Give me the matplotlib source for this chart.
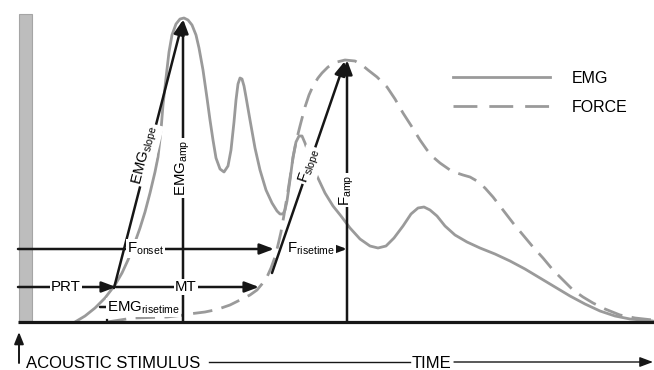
import matplotlib
matplotlib.use("Agg")
import matplotlib.pyplot as plt
from matplotlib.lines import Line2D
from matplotlib.patches import Rectangle

plt.rcParams['font.family'] = ['Liberation Sans', 'DejaVu Sans']
plt.rcParams['mathtext.fontset'] = 'custom'
plt.rcParams['mathtext.rm'] = 'Liberation Sans'
plt.rcParams['mathtext.it'] = 'Liberation Sans:italic'
plt.rcParams['mathtext.bf'] = 'Liberation Sans:bold'

# ---------------- data (schematic units: x = time, y = screen units, baseline = 322) -------------
emg_x = [75, 85, 95, 105, 115, 122, 128, 134, 140, 145, 150, 155, 158, 161, 163, 166, 169, 172,
         176, 180, 184, 188, 192, 196, 199, 203, 207, 210, 213, 216, 220, 224, 228, 231, 234,
         236, 238, 240, 242, 244, 246, 250, 255, 260, 266, 272, 277, 280, 283, 285, 287, 290, 293, 296,
         299, 302, 305, 310, 317, 325, 333, 341, 350, 360, 370, 378, 386, 394, 403, 411, 418,
         424, 430, 437, 445, 455, 467, 480, 495, 510, 525, 540, 555, 570, 585, 600, 615, 630, 653]
emg_y = [322, 316, 308, 298, 285, 273, 260, 245, 228, 212, 193, 172, 157, 130, 105, 78, 52, 35,
         24, 19, 18, 20, 25, 35, 48, 70, 98, 120, 140, 158, 169, 172, 166, 150, 122,
         100, 84, 78, 79, 86, 97, 120, 148, 170, 190, 203, 211, 214, 214, 210, 201, 180, 157, 142,
         136, 136, 143, 158, 176, 193, 206, 216, 228, 239, 246, 248, 246, 238, 226, 214, 208,
         207, 210, 216, 226, 235, 242, 248, 254, 261, 269, 278, 287, 296, 304, 311, 316, 319, 321]

force_x = [107, 120, 133, 150, 167, 180, 193, 205, 217, 230, 240, 250, 257, 262, 267, 271, 275,
           278, 281, 284, 287, 290, 293, 296, 300, 305, 309, 313, 318, 322, 328, 337, 345, 355,
           362, 368, 377, 387, 395, 403, 412, 420, 427, 433, 440, 450, 457, 463, 470, 477, 485,
           493, 503, 513, 523, 533, 543, 553, 563, 573, 583, 593, 605, 620, 635, 653]
force_y = [322, 320, 318, 317.5, 317, 315.5, 313.5, 312, 309.5, 305, 300, 295, 290, 284, 277, 268,
           257, 245, 232, 215, 197, 178, 158, 142, 126, 107, 95, 86, 78, 73, 67, 62, 60, 61,
           65, 70, 77, 87, 99, 113, 127, 140, 150, 157, 163, 170, 173, 175, 177, 181, 188,
           197, 210, 223, 235, 247, 258, 270, 280, 290, 297, 303, 309, 315, 318, 320]

legend_labels = ['EMG', 'FORCE']

GRAY = '#9a9a9a'
BLACK = '#161616'

fig = plt.figure(figsize=(6.54, 3.70), dpi=100)
ax = fig.add_axes([0, 0, 1, 1])
ax.set_xlim(0, 654)
ax.set_ylim(370, 0)
ax.axis('off')

# stimulus bar
ax.add_patch(Rectangle((19, 14), 13, 308, facecolor='#bdbdbd', edgecolor='#a5a5a5', lw=0.8, zorder=1))

# curves
ax.plot(emg_x, emg_y, color=GRAY, lw=2.0, zorder=2, solid_capstyle='round', solid_joinstyle='round')
ax.plot(force_x, force_y, color=GRAY, lw=2.0, zorder=2, linestyle=(0, (7.0, 3.4)))

# baseline
ax.plot([18, 654], [322, 322], color=BLACK, lw=2.3, zorder=3, solid_capstyle='butt')
ax.plot([107, 107], [320, 322], color=BLACK, lw=1.6, zorder=3)


def arrow(x0, y0, x1, y1, lw=1.8, hl=0.85, hw=0.32):
    ax.annotate('', xy=(x1, y1), xytext=(x0, y0),
                arrowprops=dict(arrowstyle='-|>,head_length=%g,head_width=%g' % (hl, hw),
                                lw=lw, color=BLACK, shrinkA=0, shrinkB=0,
                                mutation_scale=10),
                zorder=3)


box = dict(facecolor='white', edgecolor='none', pad=1.0)

# vertical amplitude arrows
arrow(183, 322, 183, 19)
arrow(347, 322, 347, 60)
# slope arrows
arrow(114, 288, 183, 20)
arrow(272, 273, 345, 61)
# horizontal timing arrows
arrow(18, 249, 274, 249)
arrow(331, 249, 347, 249)
arrow(18, 287, 116, 287)
arrow(116, 287, 259, 287)
arrow(100, 307, 183, 307, hl=0.7, hw=0.3)

fs = 10.8
ax.text(66, 287, 'PRT', fontsize=fs, ha='center', va='center', bbox=box, zorder=5)
ax.text(186, 287, 'MT', fontsize=fs, ha='center', va='center', bbox=box, zorder=5)
ax.text(127, 252.5, r'$\mathrm{F}_{\mathrm{onset}}$', fontsize=fs, ha='left', va='baseline',
        bbox=box, zorder=5)
ax.text(287, 253, r'$\mathrm{F}_{\mathrm{risetime}}$', fontsize=fs, ha='left', va='baseline',
        bbox=box, zorder=5)
ax.text(107, 311.5, r'$\mathrm{EMG}_{\mathrm{risetime}}$', fontsize=fs, ha='left', va='baseline',
        bbox=box, zorder=5)
ax.text(146, 155, r'$\mathrm{EMG}_{\mathrm{slope}}$', fontsize=fs, ha='center', va='center',
        rotation=75.8, rotation_mode='anchor', bbox=box, zorder=5)
ax.text(183, 168, r'$\mathrm{EMG}_{\mathrm{amp}}$', fontsize=fs, ha='center', va='center',
        rotation=90, rotation_mode='anchor', bbox=box, zorder=5)
ax.text(310, 166, r'$\mathrm{F}_{\mathrm{slope}}$', fontsize=fs, ha='center', va='center',
        rotation=71.1, rotation_mode='anchor', bbox=box, zorder=5)
ax.text(347, 190, r'$\mathrm{F}_{\mathrm{amp}}$', fontsize=fs, ha='center', va='center',
        rotation=90, rotation_mode='anchor', bbox=box, zorder=5)

# bottom annotations
arrow(19, 363, 19, 332, lw=1.4, hl=0.7, hw=0.28)
ax.text(26, 367.5, 'ACOUSTIC STIMULUS', fontsize=12, ha='left', va='baseline')
ax.plot([209, 410], [362, 362], color=BLACK, lw=1.0)
ax.text(431, 367.5, 'TIME', fontsize=12, ha='center', va='baseline')
arrow(454, 362, 653, 362, lw=1.0, hl=0.8, hw=0.3)

# legend
handles = [Line2D([], [], color=GRAY, lw=2.0),
           Line2D([], [], color=GRAY, lw=2.0, linestyle=(0, (8.6, 4.3)))]
ax.legend(handles, legend_labels, loc='upper left', bbox_to_anchor=(453 / 654, 1 - 71 / 370),
          frameon=False, fontsize=11.5, handlelength=6.07, handletextpad=1.35,
          labelspacing=0.85, borderpad=0, borderaxespad=0)

fig.savefig('out.png', dpi=100)
